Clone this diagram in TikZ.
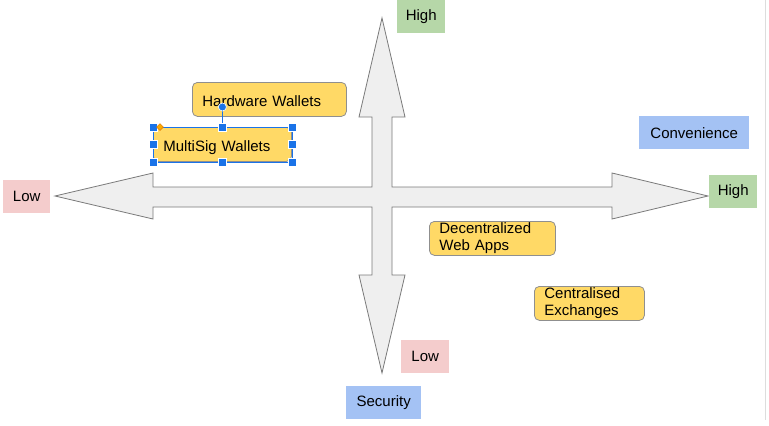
\documentclass[tikz,border=0pt]{standalone}
\usepackage{fontspec}
\usetikzlibrary{shapes.geometric}
\setmainfont{Liberation Sans}
\definecolor{gfill}{HTML}{B6D7A8}
\definecolor{pfill}{HTML}{F4CCCC}
\definecolor{bfill}{HTML}{A4C2F4}
\definecolor{yfill}{HTML}{FFD966}
\definecolor{ydraw}{HTML}{8F8F8F}
\definecolor{afill}{HTML}{EFEFEF}
\definecolor{adraw}{HTML}{7A7A7A}
\definecolor{selblue}{HTML}{1A73E8}
\definecolor{selorange}{HTML}{F9AB00}
\definecolor{seldorange}{HTML}{E37400}
\definecolor{edgegrey}{HTML}{DDDDDD}
\begin{document}
\begin{tikzpicture}[x=1pt,y=-1pt,
  txt/.style={font=\fontsize{15}{17}\selectfont},
  lbl/.style={txt, anchor=north west, inner sep=0pt, align=center},
  ybox/.style={txt, draw=ydraw, line width=0.8pt, fill=yfill, rounded corners=5pt,
    anchor=north west, inner xsep=10pt, inner ysep=0pt, align=left, minimum height=34pt},
  oneline/.style={text height=14pt, text depth=0pt},
  handle/.style={fill=selblue, draw=white, line width=0.6pt, minimum size=8pt, inner sep=0pt, rectangle}]
\useasboundingbox (0,0) rectangle (769,426);
\fill[white] (0,0) rectangle (769,426);
% right edge line
\draw[line width=1.5pt, edgegrey] (765.5,0) -- (765.5,420);
% four-way arrow
\draw[adraw, fill=afill, line width=0.8pt, line join=miter]
  (382,18) -- (405,117) -- (392,117) -- (392,187) -- (612,187) -- (612,173)
  -- (708,196) -- (612,219) -- (612,207) -- (392,207) -- (392,275) -- (405,275)
  -- (382,373) -- (359,275) -- (372,275) -- (372,207) -- (153,207) -- (153,219)
  -- (55,196) -- (153,173) -- (153,187) -- (372,187) -- (372,117) -- (359,117) -- cycle;
% axis labels
\node[lbl, fill=gfill, minimum width=48pt, minimum height=33pt] (hightop) at (397,0) {High};
\node[lbl, fill=pfill, minimum width=47pt, minimum height=33pt] (lowleft) at (3,180) {Low};
\node[lbl, fill=gfill, minimum width=48pt, minimum height=33pt] (highright) at (709,175) {High};
\node[lbl, fill=pfill, minimum width=48pt, minimum height=33pt] (lowbottom) at (401,340) {Low};
\node[lbl, fill=bfill, minimum width=75pt, minimum height=33pt] (security) at (346,386) {Security};
\node[lbl, fill=bfill, minimum width=110pt, minimum height=33pt] (convenience) at (639,116) {Convenience};
% items
\node[ybox, oneline, text width=134pt] (hw) at (192,82) {Hardware Wallets};
\node[ybox, oneline, text width=118pt] (ms) at (153,127) {MultiSig Wallets};
\node[ybox, text width=106pt] (dwa) at (429,221) {Decentralized\\Web Apps};
\node[ybox, text width=90pt] (ce) at (534,286) {Centralised\\Exchanges};
% selection handles on MultiSig Wallets
\draw[selblue, line width=0.6pt] (ms.north west) rectangle (ms.south east);
\draw[selblue, line width=0.8pt] (ms.north) -- ++(0,-20) coordinate (rot);
\node[circle, fill=selblue, draw=white, line width=0.6pt, minimum size=8pt, inner sep=0pt] (rothandle) at (rot) {};
\foreach \a [count=\i] in {north west,north,north east,east,south east,south,south west,west}
  \node[handle] (h\i) at (ms.\a) {};
\node[diamond, fill=selorange, draw=seldorange, line width=0.5pt, minimum size=7pt, inner sep=0pt, shape aspect=1] (radius) at (160,127) {};
\end{tikzpicture}
\end{document}
